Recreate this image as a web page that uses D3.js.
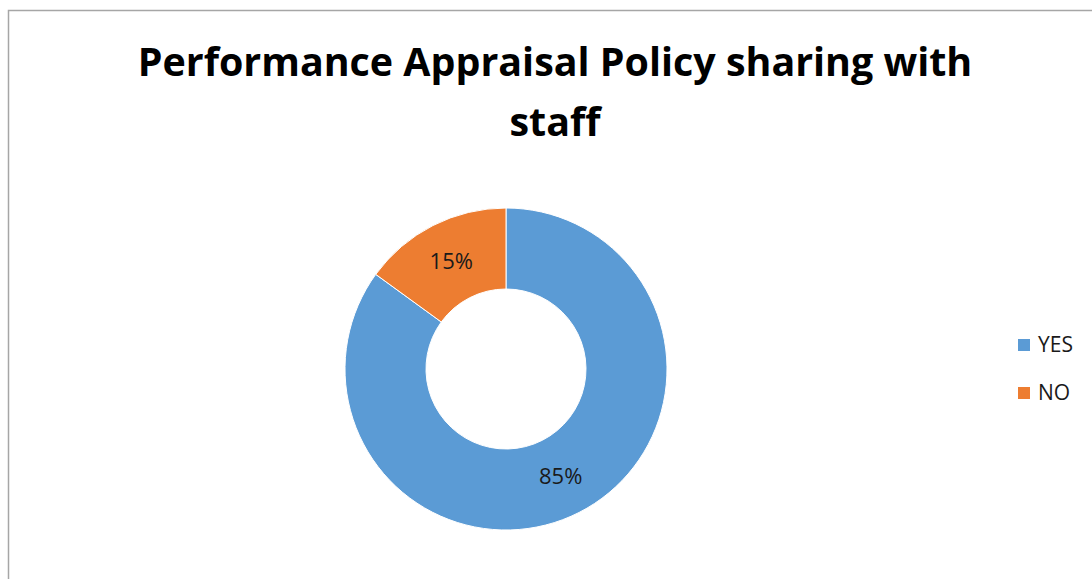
<!DOCTYPE html>
<html>
<head>
<meta charset="utf-8">
<script src="https://cdn.jsdelivr.net/npm/d3@7"></script>
<style>
  body { margin: 0; background: #fff; }
  svg { display: block; font-family: "Open Sans", "Liberation Sans", sans-serif; }
</style>
</head>
<body>
<svg id="chart"></svg>
<script>
const categories = ["YES", "NO"];
const values = [85, 15];
const colors = ["#5B9BD5", "#ED7D31"];
const titleLines = ["Performance Appraisal Policy sharing with", "staff"];

const width = 1092, height = 579;
const cx = 506, cy = 369, outerR = 161, innerR = 80;

const svg = d3.select("#chart").attr("width", width).attr("height", height);

// chart frame (runs off the right and bottom edge)
svg.append("rect")
  .attr("x", 8.5).attr("y", 10.5)
  .attr("width", 1200).attr("height", 700)
  .attr("fill", "none")
  .attr("stroke", "#a6a6a6")
  .attr("stroke-width", 1.5);

// title, sized so the first line spans like the original
const title = svg.append("g");
const t1 = title.append("text")
  .attr("x", 555).attr("y", 76)
  .attr("text-anchor", "middle")
  .attr("font-weight", "bold")
  .attr("font-size", 40)
  .text(titleLines[0]);
const w = t1.node().getComputedTextLength();
const fs = 40 * 835 / w;
t1.attr("font-size", fs);
title.append("text")
  .attr("x", 555).attr("y", 136)
  .attr("text-anchor", "middle")
  .attr("font-weight", "bold")
  .attr("font-size", fs)
  .text(titleLines[1]);

const color = d3.scaleOrdinal().domain(categories).range(colors);

const data = categories.map((c, i) => ({ key: c, value: values[i] }));
const pie = d3.pie().sort(null).value(d => d.value);
const arc = d3.arc().innerRadius(innerR).outerRadius(outerR);
const labelArc = d3.arc().innerRadius((innerR + outerR) / 2).outerRadius((innerR + outerR) / 2);

const g = svg.append("g").attr("transform", "translate(" + cx + "," + cy + ")");

const slices = g.selectAll(".arc")
  .data(pie(data))
  .enter()
  .append("g")
  .attr("class", "arc");

slices.append("path")
  .attr("d", arc)
  .attr("fill", d => color(d.data.key))
  .attr("stroke", "#fff")
  .attr("stroke-width", 1);

slices.append("text")
  .attr("transform", d => "translate(" + labelArc.centroid(d) + ")")
  .attr("text-anchor", "middle")
  .attr("dy", "0.35em")
  .attr("font-size", 22)
  .attr("fill", "#1a1a1a")
  .text(d => d.data.value + "%");

// legend
const legend = svg.append("g");
legend.selectAll("rect")
  .data(categories)
  .enter()
  .append("rect")
  .attr("x", 1018)
  .attr("y", (d, i) => 339 + i * 48)
  .attr("width", 12)
  .attr("height", 12)
  .attr("fill", d => color(d));

legend.selectAll("text")
  .data(categories)
  .enter()
  .append("text")
  .attr("x", 1038)
  .attr("y", (d, i) => 352 + i * 48)
  .attr("font-size", 21)
  .attr("fill", "#1a1a1a")
  .text(d => d);
</script>
</body>
</html>
